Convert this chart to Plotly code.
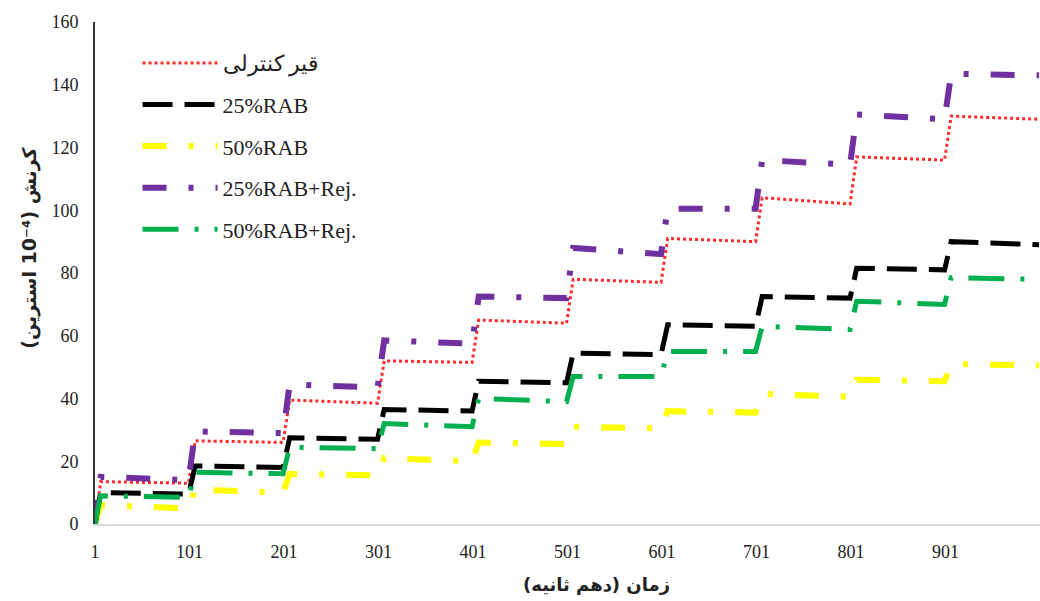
import plotly.graph_objects as go

# time (tenths of a second) at the start / top of each ramp and end of each step
time = [1, 7, 100, 107, 200, 207, 300, 307, 400, 407, 500, 507,
        600, 607, 700, 707, 800, 807, 900, 907, 1000]

control = [0, 13.5, 13, 26.5, 26, 39.5, 38.5, 52, 51.5, 65, 64, 78,
           77, 91, 90, 104, 102, 117, 116, 130, 129]
rab25 = [0, 10, 9.5, 18.5, 18, 27.5, 27, 36.5, 36, 45.5, 45, 54.5,
         54, 63.5, 63, 72.5, 72, 81.5, 81, 90, 89]
rab50 = [0, 6, 5, 11, 10, 16, 15.5, 21, 20, 26, 25.5, 31,
         30.5, 36, 35.5, 41.5, 40.5, 46, 45.5, 51, 50.5]
rab25_rej = [0, 15, 14, 29.5, 29, 44.5, 43.5, 58.5, 57.5, 72.5, 72, 88,
             86, 100.5, 100.5, 116, 114.5, 130.5, 129, 143.5, 143]
rab50_rej = [0, 9, 8.5, 16.5, 16, 24.5, 24, 32, 31, 40, 39, 47,
             47, 55, 55, 63, 62, 71, 70, 78.5, 78]

xticks = [1, 101, 201, 301, 401, 501, 601, 701, 801, 901]

series = [
    ("قیر کنترلی", control, "#ff2a2a", 3, "dot"),
    ("25%RAB", rab25, "#000000", 5, "30px,12px"),
    ("50%RAB", rab50, "#ffff00", 6, "24px,22px,5px,22px"),
    ("25%RAB+Rej.", rab25_rej, "#7030a0", 6, "24px,22px,5px,22px"),
    ("50%RAB+Rej.", rab50_rej, "#00b050", 5, "36px,16px,4px,16px"),
]

fig = go.Figure()
for i, (name, vals, color, width, dash) in enumerate(series):
    fig.add_trace(go.Scatter(
        x=time, y=vals, mode="lines", name=name,
        legendgroup=str(i),
        line=dict(color=color, width=width, dash=dash),
    ))

# RLE/PDF make the Persian titles right-to-left; LRE/PDF keep 10⁻⁴ together
ytitle = "\u202bکرنش (\u202a10⁻⁴\u202c استرین)\u202c"
xtitle = "\u202bزمان (دهم ثانیه)\u202c"

fig.update_layout(
    width=1040, height=601,
    margin=dict(l=95, r=0, t=22, b=77),
    paper_bgcolor="white", plot_bgcolor="white",
    font=dict(family="Liberation Serif", size=18, color="#222222"),
    showlegend=True,
    legend=dict(
        x=0.045, y=0.96, xanchor="left", yanchor="top",
        bgcolor="rgba(0,0,0,0)", tracegroupgap=10,
        font=dict(family="Liberation Serif", size=22, color="#222222"),
        itemwidth=75,
    ),
    xaxis=dict(
        range=[1, 1001], tickvals=xticks, ticktext=[str(v) for v in xticks],
        showgrid=False, zeroline=False, showline=True,
        linecolor="#d9d9d9", linewidth=2, ticks="",
        ticklabelstandoff=10,
        tickfont=dict(family="Liberation Serif", size=18, color="#222222"),
    ),
    yaxis=dict(
        range=[0, 160], dtick=20, showgrid=False, zeroline=False,
        showline=True, linecolor="#333333", linewidth=2, ticks="",
        ticklabelstandoff=11,
        tickfont=dict(family="Liberation Serif", size=18, color="#222222"),
    ),
    annotations=[
        dict(text="<b>" + xtitle + "</b>", xref="paper", yref="paper",
             x=0.531, y=-0.12, xanchor="center", yanchor="middle",
             showarrow=False,
             font=dict(family="DejaVu Sans", size=18, color="#222222")),
        dict(text="<b>" + ytitle + "</b>", xref="paper", yref="paper",
             x=-0.069, y=0.55, xanchor="center", yanchor="middle",
             textangle=-90, showarrow=False,
             font=dict(family="DejaVu Sans", size=19, color="#222222")),
    ],
)

fig.write_html("out.html", config={"displayModeBar": False},
               post_script="document.body.style.margin='0';")
